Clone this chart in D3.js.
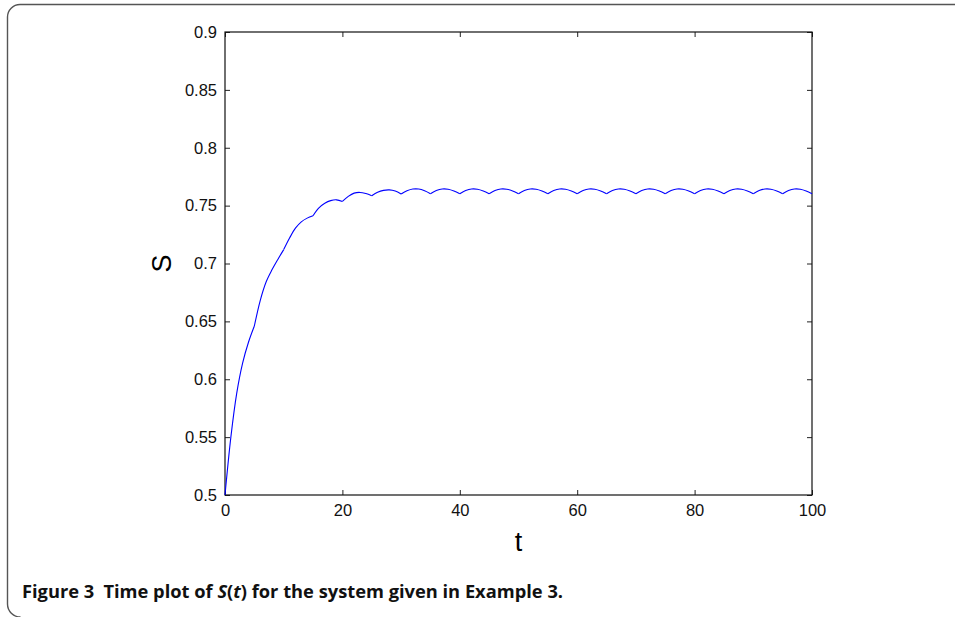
<!DOCTYPE html>
<html>
<head>
<meta charset="utf-8">
<script src="https://cdn.jsdelivr.net/npm/d3@7"></script>
<style>
  body { margin: 0; background: #fff; }
  svg { display: block; }
  .tick text { font-family: "Liberation Sans", Arial, sans-serif; font-size: 16.5px; fill: #111; }
</style>
</head>
<body>
<div id="chart"></div>
<script>
// time samples (t) and S(t), impulses every 5 units
const tValues = d3.range(0, 101);
const sValues = [
  0.5000, 0.5500, 0.5880, 0.6140, 0.6320, 0.6460,
  0.6680, 0.6840, 0.6945, 0.7035, 0.7120,
  0.7220, 0.7305, 0.7360, 0.7392, 0.7413,
  0.7480, 0.7520, 0.7543, 0.7550, 0.7536,
  0.7580, 0.7608, 0.7614, 0.7604, 0.7586,
  0.7616, 0.7632, 0.7636, 0.7626, 0.7601,
  0.7628, 0.7643, 0.7643, 0.7628, 0.7603,
  0.7630, 0.7644, 0.7642, 0.7627, 0.7603,
  0.7630, 0.7644, 0.7642, 0.7627, 0.7603,
  0.7630, 0.7644, 0.7642, 0.7627, 0.7603,
  0.7630, 0.7644, 0.7642, 0.7627, 0.7603,
  0.7630, 0.7644, 0.7642, 0.7627, 0.7603,
  0.7630, 0.7644, 0.7642, 0.7627, 0.7603,
  0.7630, 0.7644, 0.7642, 0.7627, 0.7603,
  0.7630, 0.7644, 0.7642, 0.7627, 0.7603,
  0.7630, 0.7644, 0.7642, 0.7627, 0.7603,
  0.7630, 0.7644, 0.7642, 0.7627, 0.7603,
  0.7630, 0.7644, 0.7642, 0.7627, 0.7603,
  0.7630, 0.7644, 0.7642, 0.7627, 0.7603,
  0.7630, 0.7644, 0.7642, 0.7627, 0.7603
];
const impulseTimes = d3.range(0, 101, 5);
const xTicks = [0, 20, 40, 60, 80, 100];
const yTicks = [0.5, 0.55, 0.6, 0.65, 0.7, 0.75, 0.8, 0.85, 0.9];

const width = 955, height = 617;
const margin = { top: 32, right: 143, bottom: 122, left: 225 };
const innerW = width - margin.left - margin.right;
const innerH = height - margin.top - margin.bottom;

const svg = d3.select('#chart').append('svg')
  .attr('width', width)
  .attr('height', height);

// figure frame, open on the right and bottom like the page crop
svg.append('path')
  .attr('d', 'M955,4.5 H20 A12.5,12.5 0 0 0 7.5,17 V604 A13,13 0 0 0 20.5,617')
  .attr('fill', 'none')
  .attr('stroke', '#555')
  .attr('stroke-width', 1.4);

const g = svg.append('g')
  .attr('transform', `translate(${margin.left},${margin.top})`);

const x = d3.scaleLinear().domain([0, 100]).range([0, innerW]);
const y = d3.scaleLinear().domain([0.5, 0.9]).range([innerH, 0]);

const fmt = d => String(+d.toFixed(2));

// axes, ticks pointing inward (matlab style)
g.append('g')
  .attr('transform', `translate(0,${innerH})`)
  .call(d3.axisBottom(x).tickValues(xTicks).tickSize(-5).tickPadding(9).tickSizeOuter(0))
  .call(a => a.select('.domain').remove());

g.append('g')
  .call(d3.axisTop(x).tickValues(xTicks).tickSize(-5).tickFormat('').tickSizeOuter(0))
  .call(a => a.select('.domain').remove());

g.append('g')
  .call(d3.axisLeft(y).tickValues(yTicks).tickSize(-5).tickPadding(8).tickFormat(fmt).tickSizeOuter(0))
  .call(a => a.select('.domain').remove());

g.append('g')
  .attr('transform', `translate(${innerW},0)`)
  .call(d3.axisRight(y).tickValues(yTicks).tickSize(-5).tickFormat('').tickSizeOuter(0))
  .call(a => a.select('.domain').remove());

g.selectAll('.tick line').attr('stroke', '#222').attr('stroke-width', 1);

g.append('rect')
  .attr('width', innerW)
  .attr('height', innerH)
  .attr('fill', 'none')
  .attr('stroke', '#111')
  .attr('stroke-width', 1.2);

// the curve, one smooth piece per impulse interval so the kinks stay sharp
const line = d3.line()
  .x(i => x(tValues[i]))
  .y(i => y(sValues[i]))
  .curve(d3.curveCatmullRom.alpha(0.5));

const segments = impulseTimes.slice(0, -1).map((t0, k) => {
  const t1 = impulseTimes[k + 1];
  return d3.range(tValues.indexOf(t0), tValues.indexOf(t1) + 1);
});

g.selectAll('.seg')
  .data(segments)
  .join('path')
  .attr('class', 'seg')
  .attr('d', line)
  .attr('fill', 'none')
  .attr('stroke', '#0000ff')
  .attr('stroke-width', 1.1);

// axis labels
g.append('text')
  .attr('x', innerW / 2)
  .attr('y', innerH + 56)
  .attr('text-anchor', 'middle')
  .style('font-family', '"Liberation Sans", Arial, sans-serif')
  .style('font-size', '27px')
  .text('t');

g.append('text')
  .attr('transform', `translate(-54,${y(0.7)}) rotate(-90)`)
  .attr('text-anchor', 'middle')
  .style('font-family', '"Liberation Sans", Arial, sans-serif')
  .style('font-size', '27px')
  .text('S');

// caption
const cap = svg.append('text')
  .attr('x', 22)
  .attr('y', 598)
  .style('font-family', '"Open Sans", "Noto Sans", sans-serif')
  .style('font-weight', 'bold')
  .style('font-size', '18.3px')
  .attr('fill', '#111');
cap.append('tspan').text('Figure 3\u2002Time plot of ');
cap.append('tspan').style('font-style', 'italic').text('S');
cap.append('tspan').text('(');
cap.append('tspan').style('font-style', 'italic').text('t');
cap.append('tspan').text(') for the system given in Example 3.');
</script>
</body>
</html>
